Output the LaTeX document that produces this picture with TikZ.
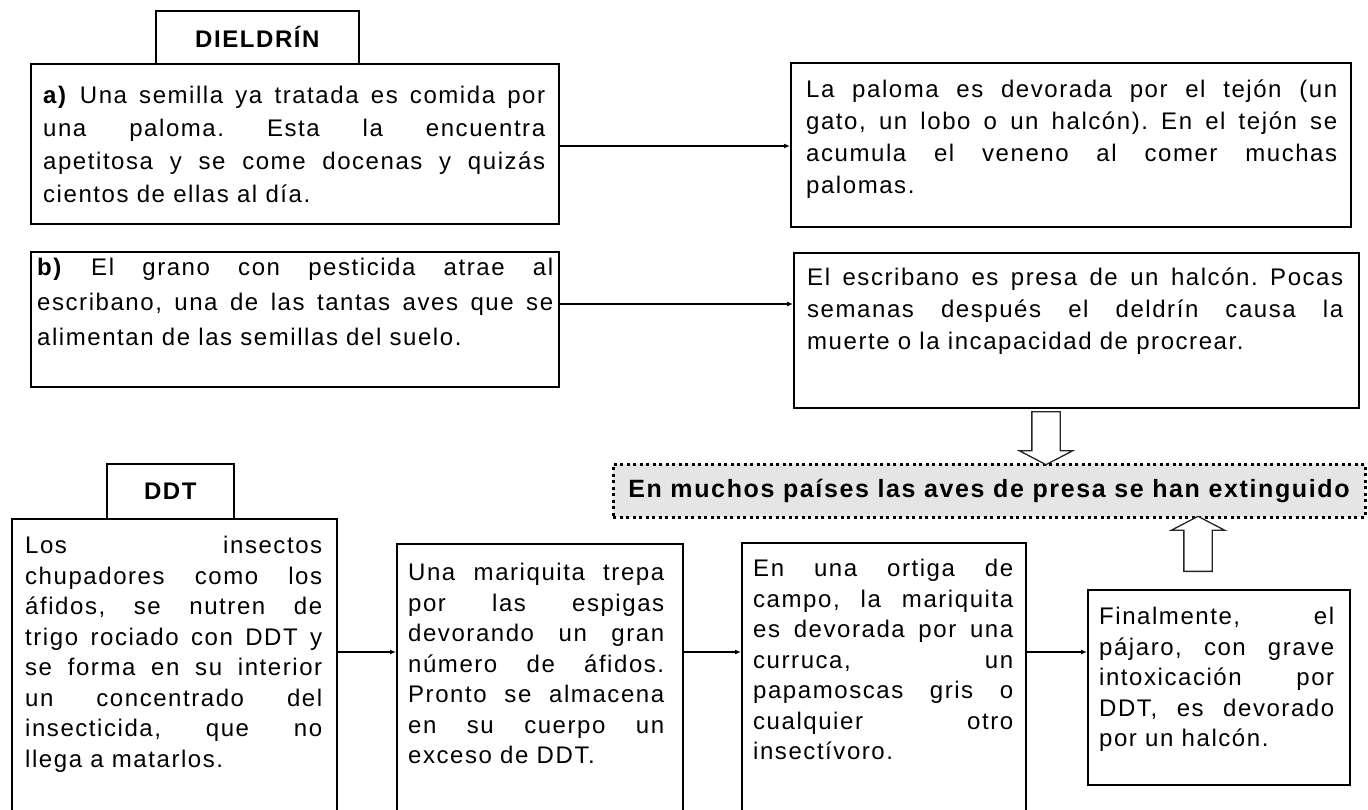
\documentclass[tikz,border=0pt]{standalone}
\usepackage{fontspec}
\setmainfont{Liberation Sans}[LetterSpace=6.5]
\usetikzlibrary{positioning,shapes.arrows,arrows.meta}
\definecolor{notegray}{RGB}{229,229,229}
\hyphenpenalty=10000
\tolerance=10000
\hbadness=10000
\frenchspacing

\begin{document}
\begin{tikzpicture}[x=1pt, y=-1pt]
\tikzset{FrameStyle/.style = {draw, line width=1.7pt, anchor=north west, inner sep=0pt}}
\tikzset{TitleStyle/.style = {FrameStyle, font=\fontsize{24}{28}\selectfont\bfseries}}
\tikzset{TextStyle/.style = {anchor=north west, inner sep=0pt, align=justify, font=\fontsize{24}{33}\selectfont}}
\tikzset{LowTextStyle/.style = {TextStyle, font=\fontsize{24}{30.5}\selectfont}}
\tikzset{EdgeStyle/.style = {-{Latex[length=6pt,width=5pt]}, line width=1.4pt}}
\tikzset{BlockStyle/.style = {single arrow, draw=black!85, line width=1.3pt, fill=white, anchor=tail,
    inner xsep=0pt, inner ysep=13.5pt, single arrow head extend=12.5pt, single arrow tip angle=125}}
  \useasboundingbox (0,0) rectangle (1368,810);
  \clip (0,0) rectangle (1368,810);

  \node[TitleStyle, minimum width=203pt, minimum height=53pt] (dieldrin) at (155,10) {DIELDRÍN};
  \node[FrameStyle, minimum width=528pt, minimum height=160pt] (semilla) at (30,63) {};
  \node[FrameStyle, minimum width=560pt, minimum height=164pt] (tejon) at (790,62) {};
  \node[FrameStyle, minimum width=528pt, minimum height=135pt] (grano) at (30,251) {};
  \node[FrameStyle, minimum width=565pt, minimum height=155pt] (escribano) at (793,252) {};

  \node[TextStyle, text width=502pt] (tsemilla) at (43,86)
    {\textbf{a)} Una semilla ya tratada es comida por\linebreak una paloma. Esta la encuentra\linebreak
     apetitosa y se come docenas y quizás\linebreak cientos de ellas al día.};
  \node[TextStyle, text width=531pt, font=\fontsize{24}{32}\selectfont] (ttejon) at (806,80)
    {La paloma es devorada por el tejón (un\linebreak gato, un lobo o un halcón). En el tejón se\linebreak
     acumula el veneno al comer muchas\linebreak palomas.};
  \node[TextStyle, text width=516pt, font=\fontsize{24}{35}\selectfont] (tgrano) at (37,258)
    {\textbf{b)} El grano con pesticida atrae al\linebreak escribano, una de las tantas aves que se\linebreak
     alimentan de las semillas del suelo.};
  \node[TextStyle, text width=536pt, font=\fontsize{24}{32}\selectfont] (tescribano) at (807,268)
    {El escribano es presa de un halcón. Pocas\linebreak semanas después el deldrín causa la\linebreak
     muerte o la incapacidad de procrear.};

  \coordinate (rowA) at (0,146);
  \coordinate (rowB) at (0,304);
  \draw[EdgeStyle] (semilla.east |- rowA) -- (tejon.west |- rowA);
  \draw[EdgeStyle] (grano.east |- rowB) -- (escribano.west |- rowB);

  \node[draw=black, line width=3pt, dash pattern=on 3pt off 3.5pt, fill=notegray, minimum width=752pt,
    minimum height=53pt, font=\fontsize{25}{28}\selectfont\bfseries] (extinct) at (989,490.5)
    {En muchos países las aves de presa se han extinguido};
  \node[BlockStyle, rotate=-90, minimum height=53pt] (down) at (1046,411) {};
  \node[BlockStyle, rotate=90, minimum height=55pt] (up) at (1198,572) {};

  \node[TitleStyle, minimum width=127pt, minimum height=55pt] (ddt) at (106,463) {DDT};
  \node[FrameStyle, minimum width=325pt, minimum height=320pt] (afidos) at (11,518) {};
  \node[FrameStyle, minimum width=286pt, minimum height=300pt] (mariquita) at (396,543) {};
  \node[FrameStyle, minimum width=284pt, minimum height=300pt] (ortiga) at (741,542) {};
  \node[FrameStyle, minimum width=262pt, minimum height=195pt] (final) at (1087,589) {};

  \node[LowTextStyle, text width=297pt] (tafidos) at (25,536)
    {Los insectos\linebreak chupadores como los\linebreak áfidos, se nutren de\linebreak
     trigo rociado con DDT y\linebreak se forma en su interior\linebreak un concentrado del\linebreak
     insecticida, que no\linebreak llega a matarlos.};
  \node[LowTextStyle, text width=256pt] (tmariquita) at (408,563)
    {Una mariquita trepa\linebreak por las espigas\linebreak devorando un gran\linebreak
     número de áfidos.\linebreak Pronto se almacena\linebreak en su cuerpo un\linebreak exceso de DDT.};
  \node[LowTextStyle, text width=260pt] (tortiga) at (753,559)
    {En una ortiga de\linebreak campo, la mariquita\linebreak es devorada por una\linebreak curruca, un\linebreak
     papamoscas gris o\linebreak cualquier otro\linebreak insectívoro.};
  \node[LowTextStyle, text width=235pt] (tfinal) at (1099,607)
    {Finalmente, el\linebreak pájaro, con grave\linebreak intoxicación por\linebreak DDT, es devorado\linebreak
     por un halcón.};

  \coordinate (row) at (0,652);
  \draw[EdgeStyle] (afidos.east |- row) -- (mariquita.west |- row);
  \draw[EdgeStyle] (mariquita.east |- row) -- (ortiga.west |- row);
  \draw[EdgeStyle] (ortiga.east |- row) -- (final.west |- row);
\end{tikzpicture}
\end{document}
